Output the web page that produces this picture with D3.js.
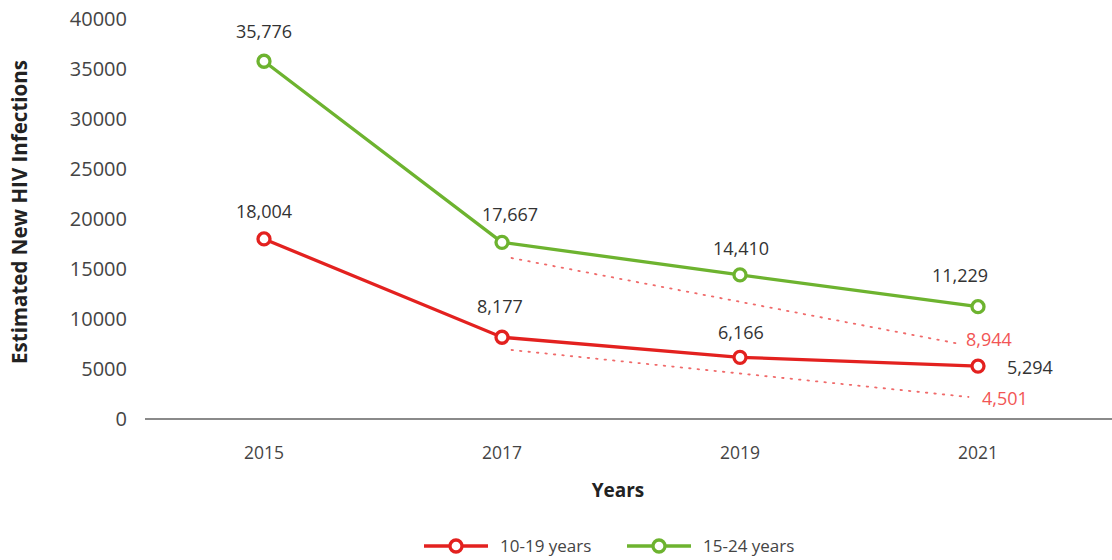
<!DOCTYPE html>
<html>
<head>
<meta charset="utf-8">
<script src="https://cdn.jsdelivr.net/npm/d3@7"></script>
<style>
  body { margin: 0; background: #fff; }
  svg text { font-family: "Open Sans", sans-serif; }
</style>
</head>
<body>
<svg id="chart" width="1112" height="560"></svg>
<script>
// datos del gráfico
const years = ["2015", "2017", "2019", "2021"];
const yTicks = [0, 5000, 10000, 15000, 20000, 25000, 30000, 35000, 40000];
const valuesYoung = [18004, 8177, 6166, 5294];   // 10-19 years
const valuesYouth = [35776, 17667, 14410, 11229]; // 15-24 years
const seriesNames = ["10-19 years", "15-24 years"];
// líneas punteadas de meta (inicio en 2017, fin en 2021)
const trendYoung = [6900, 2200];
const trendYouth = [16100, 7500];
const targetLabels = ["4,501", "8,944"];

const red = "#e3211f";
const green = "#6db32f";

const svg = d3.select("#chart");

const x = d3.scalePoint().domain(years).range([145, 1097]).padding(0.5);
const y = d3.scaleLinear().domain([0, 40000]).range([419, 19]);

// eje y (solo etiquetas)
svg.append("g")
  .selectAll("text")
  .data(yTicks)
  .join("text")
  .attr("x", 127)
  .attr("y", d => y(d))
  .attr("dy", "0.35em")
  .attr("text-anchor", "end")
  .attr("font-size", 20)
  .attr("fill", "#444")
  .text(d => d);

// línea base
svg.append("line")
  .attr("x1", 145).attr("x2", 1112)
  .attr("y1", y(0)).attr("y2", y(0))
  .attr("stroke", "#8a8a8a")
  .attr("stroke-width", 2);

// etiquetas eje x
svg.append("g")
  .selectAll("text")
  .data(years)
  .join("text")
  .attr("x", d => x(d))
  .attr("y", 453)
  .attr("dy", "0.35em")
  .attr("text-anchor", "middle")
  .attr("font-size", 17.5)
  .attr("fill", "#444")
  .text(d => d);

// títulos de ejes
svg.append("text")
  .attr("transform", "translate(20,212) rotate(-90)")
  .attr("dy", "0.35em")
  .attr("text-anchor", "middle")
  .attr("font-size", 20.5)
  .attr("font-weight", "bold")
  .attr("fill", "#222")
  .text("Estimated New HIV Infections");

svg.append("text")
  .attr("x", 618)
  .attr("y", 490)
  .attr("dy", "0.35em")
  .attr("text-anchor", "middle")
  .attr("font-size", 19)
  .attr("font-weight", "bold")
  .attr("fill", "#222")
  .text("Years");

// líneas punteadas de meta
const step = x.step();
function drawTrend(vals, x0Off, x1Off, label, lx, ly) {
  svg.append("line")
    .attr("x1", x("2017") + x0Off * step)
    .attr("x2", x("2021") + x1Off * step)
    .attr("y1", y(vals[0]))
    .attr("y2", y(vals[1]))
    .attr("stroke", "#f06a6a")
    .attr("stroke-width", 1.8)
    .attr("stroke-dasharray", "1.5,7")
    .attr("stroke-linecap", "round");
  svg.append("text")
    .attr("x", lx).attr("y", ly)
    .attr("dy", "0.35em")
    .attr("font-size", 18)
    .attr("fill", "#f25555")
    .text(label);
}
drawTrend(trendYouth, 0.04, -0.075, targetLabels[1], 966, 340);
drawTrend(trendYoung, 0.04, -0.04, targetLabels[0], 982, 399);

// series
const fmt = d3.format(",");
function drawSeries(vals, color, labelOffsets) {
  const line = d3.line().x((d, i) => x(years[i])).y(d => y(d));
  svg.append("path")
    .datum(vals)
    .attr("d", line)
    .attr("fill", "none")
    .attr("stroke", color)
    .attr("stroke-width", 3.3);
  svg.append("g")
    .selectAll("circle")
    .data(vals)
    .join("circle")
    .attr("cx", (d, i) => x(years[i]))
    .attr("cy", d => y(d))
    .attr("r", 6)
    .attr("fill", "#fff")
    .attr("stroke", color)
    .attr("stroke-width", 3.3);
  svg.append("g")
    .selectAll("text")
    .data(vals)
    .join("text")
    .attr("x", (d, i) => x(years[i]) + labelOffsets[i][0])
    .attr("y", (d, i) => y(d) + labelOffsets[i][1])
    .attr("dy", "0.35em")
    .attr("text-anchor", (d, i) => labelOffsets[i][2] || "middle")
    .attr("font-size", 18)
    .attr("fill", "#333")
    .text(d => fmt(d));
}
drawSeries(valuesYouth, green, [[0, -30], [8, -28], [1, -26], [-18, -31]]);
drawSeries(valuesYoung, red, [[0, -27], [-2, -31], [1, -25], [29, 2, "start"]]);

// leyenda
const legend = svg.append("g").attr("transform", "translate(0,546)");
[[red, 424, seriesNames[0]], [green, 627, seriesNames[1]]].forEach(([c, lx, name]) => {
  legend.append("line")
    .attr("x1", lx).attr("x2", lx + 64)
    .attr("stroke", c).attr("stroke-width", 3.3);
  legend.append("circle")
    .attr("cx", lx + 32).attr("r", 6)
    .attr("fill", "#fff").attr("stroke", c).attr("stroke-width", 3.3);
  legend.append("text")
    .attr("x", lx + 76)
    .attr("dy", "0.35em")
    .attr("font-size", 17)
    .attr("fill", "#444")
    .text(name);
});
</script>
</body>
</html>
